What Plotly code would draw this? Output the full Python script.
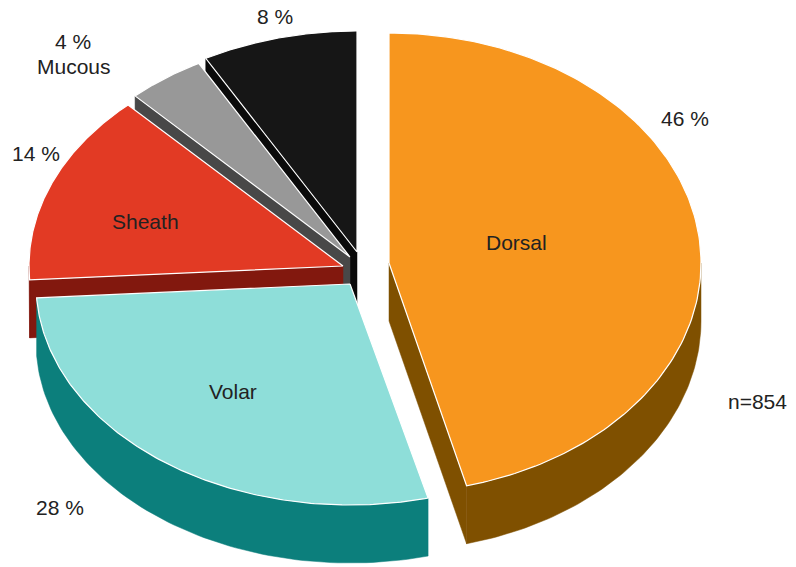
import numpy as np
import plotly.graph_objects as go

# ---- data ----
labels = ["Dorsal", "Volar", "Sheath", "Mucous", "Other"]
values = [46, 28, 14, 4, 8]
n_total = 854

# ---- style ----
top_colors = ["#F7961E", "#8EDED9", "#E23A24", "#989898", "#161616"]
side_colors = ["#7F5000", "#0C7F7C", "#82180E", "#484848", "#0A0A0A"]
center = (352, 266)
apex_offsets = [(37, -3), (-2, 18), (-9, 0), (-2, -9), (5, -14)]
rx_list = [312, 314, 314, 314, 314]
ry_list = [230, 221, 221, 221, 221]
depth = 58
W, H = 796, 567

total = sum(values)
bounds = np.concatenate([[0], np.cumsum(values)]) / total * 360.0


def rim(cx, cy, rx, ry, th):
    t = np.radians(th)
    return cx + rx * np.sin(t), cy - ry * np.cos(t)


fig = go.Figure()


def poly(xs, ys, fill, lc, lw):
    fig.add_trace(go.Scatter(x=list(xs), y=list(ys), mode="lines", fill="toself",
                             fillcolor=fill, line=dict(color=lc, width=lw),
                             hoverinfo="skip", showlegend=False))


geo = []
for i in range(len(values)):
    cx = center[0] + apex_offsets[i][0]
    cy = center[1] + apex_offsets[i][1]
    geo.append((cx, cy, rx_list[i], ry_list[i], bounds[i], bounds[i + 1]))

draw_order = [4, 3, 2, 0, 1]

# walls
for i in draw_order:
    cx, cy, rx, ry, t0, t1 = geo[i]
    # start cut face
    if np.sin(np.radians(t0)) < -1e-6:
        px, py = rim(cx, cy, rx, ry, t0)
        poly([cx, px, px, cx, cx], [cy, py, py + depth, cy + depth, cy],
             side_colors[i], side_colors[i], 0.5)
    # end cut face
    if np.sin(np.radians(t1)) > 1e-6:
        px, py = rim(cx, cy, rx, ry, t1)
        poly([cx, px, px, cx, cx], [cy, py, py + depth, cy + depth, cy],
             side_colors[i], side_colors[i], 0.5)
    # outer wall (front half 90..270)
    a0, a1 = max(t0, 90), min(t1, 270)
    if a1 > a0:
        th = np.linspace(a0, a1, 80)
        xs, ys = rim(cx, cy, rx, ry, th)
        px = np.concatenate([xs, xs[::-1], xs[:1]])
        py = np.concatenate([ys, ys[::-1] + depth, ys[:1]])
        poly(px, py, side_colors[i], side_colors[i], 0.5)

# tops
for i in draw_order:
    cx, cy, rx, ry, t0, t1 = geo[i]
    th = np.linspace(t0, t1, 160)
    xs, ys = rim(cx, cy, rx, ry, th)
    px = np.concatenate([[cx], xs, [cx]])
    py = np.concatenate([[cy], ys, [cy]])
    poly(px, py, top_colors[i], "white", 1.2)

font = dict(family="Liberation Sans, Arial, sans-serif", size=21, color="#222222")


def txt(x, y, s):
    fig.add_annotation(x=x, y=y, text=s, showarrow=False, font=font,
                       xanchor="center", yanchor="middle", xref="x", yref="y")


pct = [f"{v} %" for v in values]
txt(516, 242, labels[0])
txt(685, 118, pct[0])
txt(233, 391, labels[1])
txt(60, 507, pct[1])
txt(145, 221, labels[2])
txt(36, 153, pct[2])
txt(73, 41, pct[3])
txt(74, 66, labels[3])
txt(275, 16, pct[4])
txt(757, 401, f"n={n_total}")

fig.update_layout(width=W, height=H, margin=dict(l=0, r=0, t=0, b=0),
                  paper_bgcolor="white", plot_bgcolor="white",
                  xaxis=dict(range=[0, W], visible=False, fixedrange=True),
                  yaxis=dict(range=[H, 0], visible=False, fixedrange=True))

fig.write_html("out.html")
